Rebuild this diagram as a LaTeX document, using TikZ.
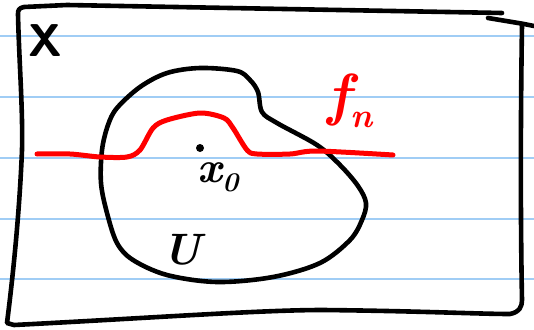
\documentclass[tikz,border=0pt]{standalone}
\usepackage{fontspec}
\newcommand{\lowsub}[2][27]{\raisebox{-0.22em}{\fontsize{#1}{#1}\selectfont #2}}
\begin{document}
\begin{tikzpicture}[x=1pt,y=-1pt,
  ink/.style={line width=4.6pt,line cap=round,line join=round,black},
  redink/.style={line width=5pt,line cap=round,line join=round,red},
  rule/.style={line width=1.4pt,color=paperblue},
  lbl/.style={inner sep=0pt,font=\fontsize{44}{44}\selectfont\bfseries\itshape}]
\definecolor{paperblue}{RGB}{160,205,245}
\useasboundingbox (0,0) rectangle (534,329);
\fill[white] (0,0) rectangle (534,329);
% ruled paper lines
\foreach \yy in {36,97,158,219,279} \draw[rule] (0,\yy) -- (534,\yy);
% frame X
\draw[ink] (502,13) -- (67,5) -- (24,7) .. controls (19,8) and (18,10) .. (18,14)
  .. controls (19,60) and (23,110) .. (22,150) .. controls (20,200) and (15,260) .. (7,323)
  -- (14,325) .. controls (150,318) and (260,310) .. (323,310) .. controls (420,311) and (480,314) .. (510,314)
  .. controls (520,312) and (522,306) .. (522,300) .. controls (521,250) and (520,150) .. (522,25);
\draw[ink] (488,18) -- (524,24) -- (534,26);
% label X
\node[inner sep=0pt,font=\fontsize{46}{46}\selectfont\sffamily\bfseries] (X) at (45,41) {X};
% blob U
\draw[ink] plot[smooth cycle,tension=0.55] coordinates {
  (117,108) (140,87) (167,73) (200,68) (237,71) (250,80) (258,92) (262,112) (277,123)
  (317,145) (340,165) (358,186) (366,203) (362,220) (350,240) (320,263) (273,277)
  (217,282) (167,275) (133,260) (117,243) (107,213) (101,183) (102,150) (108,125)};
% red curve f_n
\draw[redink] plot[smooth,tension=0.5] coordinates {
  (37,154) (70,154) (100,157) (127,157) (140,150) (153,128) (167,120) (200,113)
  (224,118) (233,128) (247,150) (257,154) (290,154) (317,151) (393,155)};
% point x_0
\node[circle,fill=black,inner sep=0pt,minimum size=8pt] (x0pt) at (200,148) {};
\node[lbl,anchor=north] (x0) at (218,162) {x\lowsub{0}};
\node[lbl,text=red,font=\fontsize{58}{58}\selectfont\bfseries\itshape] (fn) at (350,101) {f\lowsub[34]{n}};
\node[lbl] (U) at (182,250) {U};
\end{tikzpicture}
\end{document}
